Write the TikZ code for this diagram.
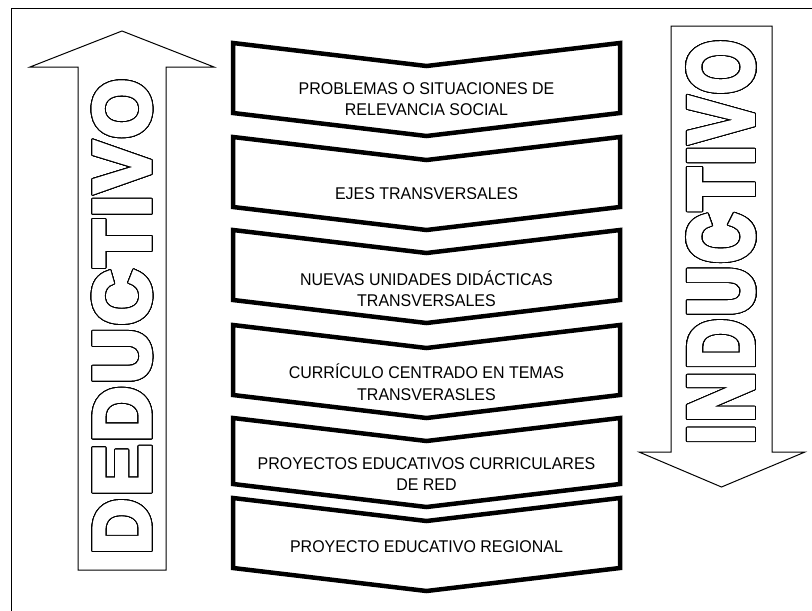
\documentclass[tikz,border=0pt]{standalone}
\usepackage{fontspec}
\setmainfont{Liberation Sans}
\newfontfamily\lblfont{Liberation Sans}[FakeStretch=0.94]
\newfontfamily\heavyfont{Liberation Sans Bold}[FakeBold=5]
\usepackage{contour}
\contourlength{1.1pt}
\contournumber{32}
\newcommand{\gap}{\kern3.5pt}

\begin{document}
\begin{tikzpicture}[x=1pt,y=-1pt,
    chevron/.style={draw=black,line width=4.5pt,fill=white},
    hollowarrow/.style={draw=black,line width=1pt},
    lbl/.style={align=center,inner sep=0pt,font=\lblfont\fontsize{17}{21.5}\selectfont},
    bigword/.style={inner sep=0pt,rotate=90,font=\heavyfont\fontsize{85}{85}\selectfont}]
  \useasboundingbox (0,0) rectangle (812,611);
  \draw[line width=1pt] (11,620) -- (11,8) -- (820,8);
  % hollow arrows
  \draw[hollowarrow] (78,570) -- (78,67) -- (30,67) -- (122,31) -- (214,67) -- (166,67) -- (166,570) -- cycle;
  \draw[hollowarrow] (671,26) -- (772,26) -- (772,452) -- (805,452) -- (721.5,487) -- (639,452) -- (671,452) -- cycle;
  \node[bigword] (DED) at (122.5,316.5) {\resizebox{475pt}{56pt}{\textcolor{white}{\contour{black}{D\gap E\gap D\gap U\gap C\gap T\gap I\gap V\gap O}}}};
  \node[bigword] (IND) at (721.5,242) {\resizebox{404pt}{64pt}{\textcolor{white}{\contour{black}{I\gap N\gap D\gap U\gap C\gap T\gap I\gap V\gap O}}}};
  % chevrons
  \draw[chevron] (233,43) -- (426.5,66) -- (620,43) -- (620,113) -- (426.5,136) -- (233,113) -- cycle;
  \draw[chevron] (233,137) -- (426.5,160) -- (620,137) -- (620,207) -- (426.5,230) -- (233,207) -- cycle;
  \draw[chevron] (233,230) -- (426.5,253) -- (620,230) -- (620,300) -- (426.5,323) -- (233,300) -- cycle;
  \draw[chevron] (233,325) -- (426.5,348) -- (620,325) -- (620,395) -- (426.5,418) -- (233,395) -- cycle;
  \draw[chevron] (233,418) -- (426.5,441) -- (620,418) -- (620,484) -- (426.5,507) -- (233,484) -- cycle;
  \draw[chevron] (233,498) -- (426.5,521) -- (620,498) -- (620,568) -- (426.5,591) -- (233,568) -- cycle;
  % labels
  \node[lbl] (P1) at (426.5,99) {PROBLEMAS O SITUACIONES DE\\RELEVANCIA SOCIAL};
  \begin{scope}
    \clip (233,140) rectangle (620,198);
    \node[lbl] (P2) at (426.5,194) {EJES TRANSVERSALES};
  \end{scope}
  \node[lbl] (P3) at (426.5,288.5) {NUEVAS UNIDADES DIDÁCTICAS\\TRANSVERSALES};
  \node[lbl] (P4) at (426.5,382) {CURRÍCULO CENTRADO EN TEMAS\\TRANSVERASLES};
  \node[lbl] (P5) at (426.5,474) {PROYECTOS EDUCATIVOS CURRICULARES\\DE RED};
  \node[lbl] (P6) at (426.5,547) {PROYECTO EDUCATIVO REGIONAL};
\end{tikzpicture}
\end{document}
